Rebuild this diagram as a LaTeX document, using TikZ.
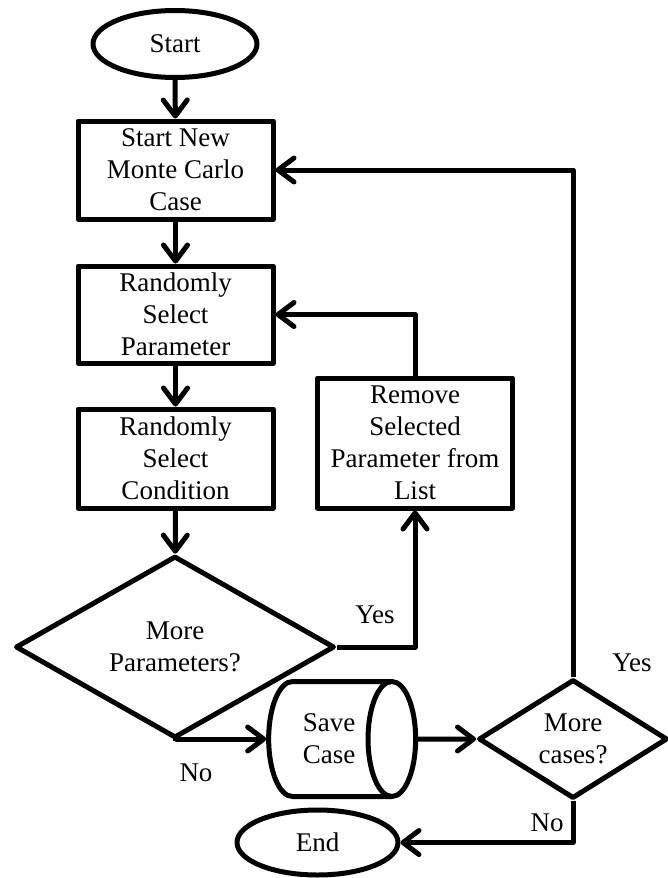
\documentclass[tikz,border=0pt]{standalone}
\usepackage{fontspec}
\setmainfont{Liberation Serif}
\usetikzlibrary{shapes.geometric,arrows.meta}

\begin{document}
\begin{tikzpicture}[x=1pt,y=-1pt,line width=5pt,line join=round,
        font=\fontsize{27}{32}\selectfont,
        term/.style={draw,ellipse,inner sep=0pt},
        box/.style={draw,rectangle,align=center,inner sep=0pt,minimum width=195pt,minimum height=98pt},
        decide/.style={draw,diamond,align=center,inner sep=0pt},
        store/.style={draw,cylinder,align=center,inner sep=0pt,aspect=0.95,minimum width=115pt,minimum height=147pt},
        flow/.style={-{Straight Barb[length=16pt,width=24pt,round]}}]

        \useasboundingbox (0,0) rectangle (667,878);

        % main column
        \node[term,minimum width=164pt,minimum height=67pt] (start) at (175,44) {Start};
        \node[box] (new) at (175.5,170) {Start New\\Monte Carlo\\Case};
        \node[box,minimum height=97pt] (sel) at (175.5,314.5) {Randomly\\Select\\Parameter};
        \node[box,minimum height=99pt] (cond) at (175.5,458.5) {Randomly\\Select\\Condition};
        \node[decide,minimum width=319pt,minimum height=140pt] (more) at (175,647) {More\\Parameters?};
        %
        \node[box,minimum height=130pt] (rm) at (415,443) {Remove\\Selected\\Parameter from\\List};
        %
        \node[store] (save) at (329,739) {Save\\Case};
        \node[decide,minimum width=189pt,minimum height=111pt] (cases) at (573,739) {More\\cases?};
        \node[term,minimum width=161pt,minimum height=65pt] (end) at (317.5,842.5) {End};

        % labels
        \node (yes1) at (375,615) {Yes};
        \node (no1) at (196,773) {No};
        \node (yes2) at (632,663) {Yes};
        \node (no2) at (547,823) {No};

        % connectors
        \draw[flow] (start) -- (new);
        \draw[flow] (new) -- (sel);
        \draw[flow] (sel) -- (cond);
        \draw[flow] (cond) -- (more);
        \draw[flow] (more.east) -| (rm.south);
        \draw[flow] (rm.north) |- (sel.east);
        \draw[flow] (more.south) |- (save.west);
        \draw[flow] (save.east) -- (cases.west);
        \draw[flow] (cases.north) |- (new.east);
        \draw[flow] (cases.south) |- (end.east);

\end{tikzpicture}
\end{document}
